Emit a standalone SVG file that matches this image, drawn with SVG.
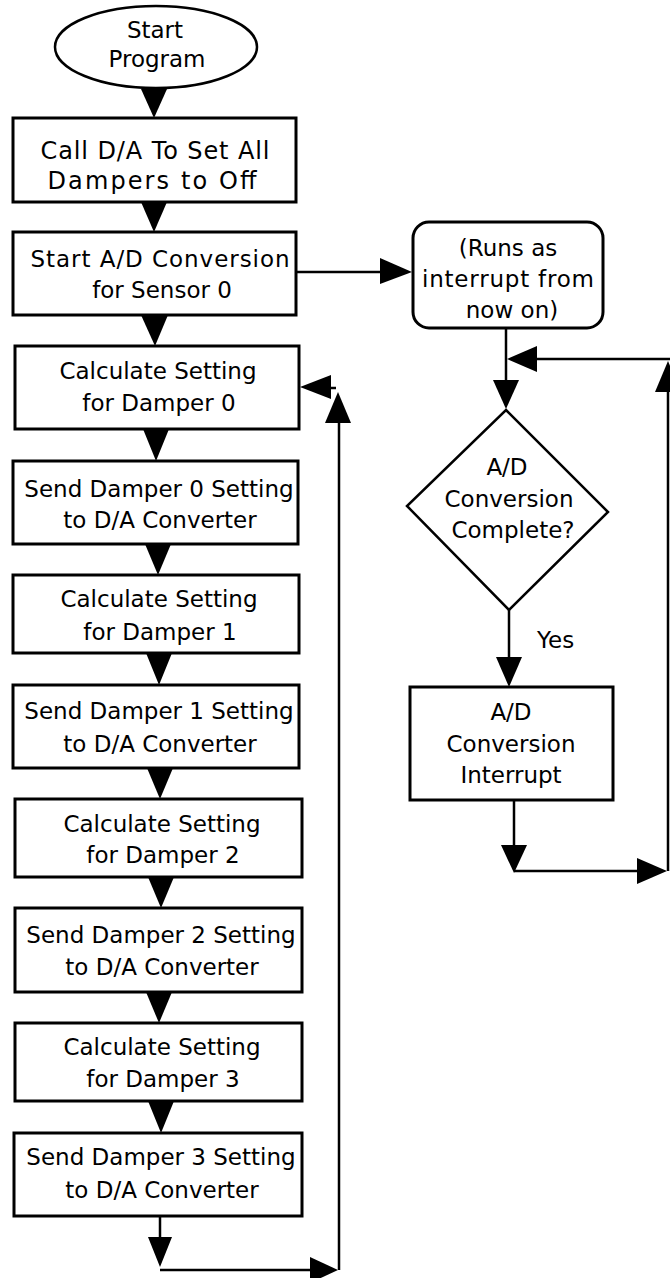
<svg xmlns="http://www.w3.org/2000/svg" width="670" height="1278" viewBox="0 0 670 1278">
  <style>
    .box { fill: #ffffff; stroke: #000000; stroke-width: 3; }
    .term { fill: #ffffff; stroke: #000000; stroke-width: 2.5; }
    .lbl { font-family: "DejaVu Sans", Verdana, sans-serif; font-size: 23px; fill: #000000; text-anchor: middle; }
    .lbl-big { font-size: 24px; }
    .lbl-start { font-family: "DejaVu Sans", Verdana, sans-serif; font-size: 23px; fill: #000000; }
    .wire { fill: none; stroke: #000000; stroke-width: 2.5; }
    .head { fill: #000000; stroke: none; }
  </style>
  <rect x="0" y="0" width="670" height="1278" fill="#ffffff"/>

  <!-- main program column -->
  <g id="start-program">
    <ellipse class="term" cx="156" cy="47" rx="101" ry="41"/>
    <text class="lbl" x="155" y="38">Start</text>
    <text class="lbl" x="157" y="67">Program</text>
  </g>
  <g id="set-dampers-off">
    <rect class="box" x="13" y="118" width="283" height="84"/>
    <text class="lbl lbl-big" x="155" y="159" textLength="229" lengthAdjust="spacing">Call D/A To Set All</text>
    <text class="lbl lbl-big" x="152" y="189" textLength="209" lengthAdjust="spacing">Dampers to Off</text>
  </g>
  <g id="start-ad">
    <rect class="box" x="13" y="232" width="283" height="83"/>
    <text class="lbl" x="160" y="267" textLength="259" lengthAdjust="spacing">Start A/D Conversion</text>
    <text class="lbl" x="162" y="298">for Sensor 0</text>
  </g>
  <g id="calc-0">
    <rect class="box" x="15" y="346" width="284" height="83"/>
    <text class="lbl" x="158" y="379">Calculate Setting</text>
    <text class="lbl" x="159" y="411">for Damper 0</text>
  </g>
  <g id="send-0">
    <rect class="box" x="13" y="461" width="285" height="83"/>
    <text class="lbl" x="159" y="497">Send Damper 0 Setting</text>
    <text class="lbl" x="160" y="528">to D/A Converter</text>
  </g>
  <g id="calc-1">
    <rect class="box" x="13" y="575" width="286" height="78"/>
    <text class="lbl" x="159" y="607">Calculate Setting</text>
    <text class="lbl" x="160" y="640">for Damper 1</text>
  </g>
  <g id="send-1">
    <rect class="box" x="13" y="685" width="286" height="83"/>
    <text class="lbl" x="159" y="719">Send Damper 1 Setting</text>
    <text class="lbl" x="160" y="752">to D/A Converter</text>
  </g>
  <g id="calc-2">
    <rect class="box" x="15" y="799" width="287" height="78"/>
    <text class="lbl" x="162" y="832">Calculate Setting</text>
    <text class="lbl" x="163" y="863">for Damper 2</text>
  </g>
  <g id="send-2">
    <rect class="box" x="15" y="908" width="287" height="84"/>
    <text class="lbl" x="161" y="943">Send Damper 2 Setting</text>
    <text class="lbl" x="162" y="975">to D/A Converter</text>
  </g>
  <g id="calc-3">
    <rect class="box" x="15" y="1023" width="287" height="78"/>
    <text class="lbl" x="162" y="1055">Calculate Setting</text>
    <text class="lbl" x="163" y="1087">for Damper 3</text>
  </g>
  <g id="send-3">
    <rect class="box" x="14" y="1133" width="288" height="83"/>
    <text class="lbl" x="161" y="1165">Send Damper 3 Setting</text>
    <text class="lbl" x="162" y="1198">to D/A Converter</text>
  </g>

  <!-- interrupt routine -->
  <g id="interrupt-note">
    <rect class="box" x="413" y="222" width="190" height="106" rx="16" ry="16"/>
    <text class="lbl" x="508" y="256">(Runs as</text>
    <text class="lbl" x="508" y="287" textLength="172" lengthAdjust="spacing">interrupt from</text>
    <text class="lbl" x="512" y="318">now on)</text>
  </g>
  <g id="ad-complete">
    <polygon class="term" points="506,410 608,512 509,610 407,506"/>
    <text class="lbl" x="507" y="475">A/D</text>
    <text class="lbl" x="509" y="507">Conversion</text>
    <text class="lbl" x="513" y="538">Complete?</text>
  </g>
  <g id="ad-interrupt">
    <rect class="box" x="410" y="687" width="203" height="113"/>
    <text class="lbl" x="511" y="720">A/D</text>
    <text class="lbl" x="511" y="752">Conversion</text>
    <text class="lbl" x="511" y="783">Interrupt</text>
  </g>

  <g id="connectors">
    <!-- flow arrows between stacked steps -->
    <polygon class="head" points="141,89 167,89 154,118"/>
    <polygon class="head" points="141,202 167,202 154,232"/>
    <polygon class="head" points="141,315 168,315 155,346"/>
    <polygon class="head" points="143,429 169,429 156,461"/>
    <polygon class="head" points="145,544 171,544 158,575"/>
    <polygon class="head" points="146,653 172,653 159,685"/>
    <polygon class="head" points="147,768 173,768 160,799"/>
    <polygon class="head" points="148,877 174,877 161,908"/>
    <polygon class="head" points="146,992 172,992 159,1023"/>
    <polygon class="head" points="148,1101 174,1101 161,1133"/>

    <!-- loop back from the last step to Damper 0 -->
    <polyline class="wire" points="160,1216 160,1240"/>
    <polygon class="head" points="148,1237 172,1237 160,1267"/>
    <polyline class="wire" points="160,1270 312,1270"/>
    <polygon class="head" points="310,1257 310,1283 338,1270"/>
    <polyline class="wire" points="339,1270 339,420"/>
    <polygon class="head" points="325,423 351,423 338,392"/>
    <line class="wire" x1="330" y1="388" x2="336" y2="388"/>
    <polygon class="head" points="331,375 331,399 300,387"/>

    <!-- start conversion to interrupt note -->
    <line class="wire" x1="297" y1="272" x2="382" y2="272"/>
    <polygon class="head" points="380,258 380,284 412,272"/>

    <!-- note to decision -->
    <line class="wire" x1="506" y1="328" x2="506" y2="382"/>
    <polygon class="head" points="493,380 519,380 506,409"/>

    <!-- decision Yes to interrupt box -->
    <line class="wire" x1="509" y1="610" x2="509" y2="660"/>
    <polygon class="head" points="496,657 522,657 509,687"/>
    <text class="lbl-start" x="537" y="648">Yes</text>

    <!-- interrupt box back round to the decision -->
    <line class="wire" x1="514" y1="800" x2="514" y2="848"/>
    <polygon class="head" points="501,845 527,845 514,873"/>
    <line class="wire" x1="514" y1="871" x2="640" y2="871"/>
    <polygon class="head" points="637,858 637,884 667,871"/>
    <line class="wire" x1="668" y1="871" x2="668" y2="390"/>
    <polygon class="head" points="655,392 681,392 668,361"/>
    <line class="wire" x1="535" y1="359" x2="670" y2="359"/>
    <polygon class="head" points="537,346 537,372 507,359"/>
  </g>
</svg>
